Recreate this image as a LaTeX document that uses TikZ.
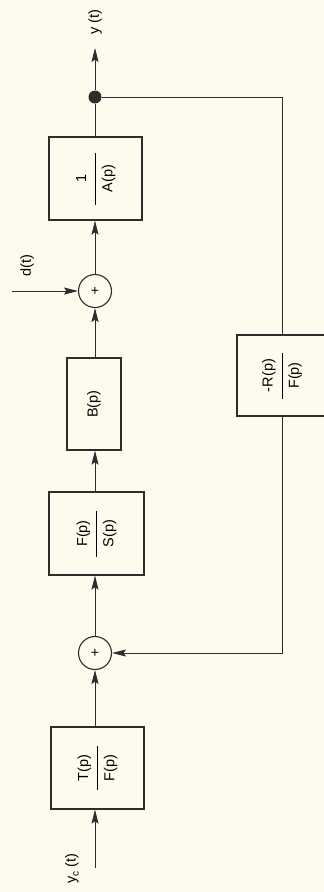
\documentclass[tikz,border=0pt]{standalone}
\usepackage{fontspec}
\setmainfont{Liberation Sans}
\usepackage{graphicx}
\usetikzlibrary{arrows.meta}
\definecolor{paper}{RGB}{253,251,238}
\definecolor{ink}{RGB}{45,45,45}
\newcommand\myfr[3]{\vbox{\offinterlineskip\halign{\hfil##\hfil\cr\vphantom{(}#1\cr\noalign{\kern6pt}\rule{#3}{0.7pt}\cr\noalign{\kern6pt}\vphantom{(}#2\cr}}}
\newcommand\rt[1]{\rotatebox{90}{\fontsize{14.5}{16}\selectfont #1}}
\begin{document}
\begin{tikzpicture}[x=1pt,y=-1pt,
  box/.style={draw=ink, line width=1.4pt, inner sep=0pt},
  sumj/.style={circle, draw=ink, line width=1.1pt, minimum size=33pt, inner sep=0pt, font=\fontsize{14}{15}\selectfont},
  conn/.style={draw=ink, line width=0.7pt},
  arr/.style={conn, -{Stealth[length=14pt,width=7pt,inset=2.5pt]}},
  lab/.style={inner sep=0pt}]
\fill[paper] (0,0) rectangle (324,892);
\useasboundingbox (0,0) rectangle (324,892);
\begin{scope}
\clip (0,0) rectangle (324,892);
\node[box, minimum width=93pt, minimum height=83pt] (A) at (95.5,178.5) {\rt{\myfr{1}{A(p)}{52pt}}};
\node[box, minimum width=54pt, minimum height=92pt] (B) at (94,404) {\rt{B(p)}};
\node[box, minimum width=95pt, minimum height=83pt] (FS) at (96.5,533.5) {\rt{\myfr{F(p)}{S(p)}{46pt}}};
\node[box, minimum width=93pt, minimum height=82pt] (TF) at (97.5,768) {\rt{\myfr{T(p)}{F(p)}{44pt}}};
\node[box, minimum width=90pt, minimum height=81pt] (RF) at (282,375.5) {\rt{\myfr{-R(p)}{F(p)}{46pt}}};
\end{scope}
\node[sumj] (s1) at (95,291) {+};
\node[sumj] (s2) at (95,653) {+};
\node[circle, fill=ink, minimum size=13pt, inner sep=0pt] (o) at (95,97) {};
\coordinate (out) at (95,48);
\coordinate (yc) at (95,868);
\coordinate (dst) at (12,291);
\node[lab] (ylab) at (95,22) {\rt{y (t)}};
\node[lab] (yclab) at (72,869) {\rt{y\raisebox{-3pt}{\fontsize{10}{11}\selectfont c} (t)}};
\node[lab] (dlab) at (27,266) {\rt{d(t)}};
\draw[arr] (yc) -- (TF.south -| yc);
\draw[arr] (TF.north -| s2) -- (s2.south);
\draw[arr] (s2.north) -- (FS.south -| s2);
\draw[arr] (FS.north -| s2) -- (B.south -| s2);
\draw[arr] (B.north -| s2) -- (s1.south);
\draw[arr] (s1.north) -- (A.south -| s1);
\draw[conn] (A.north -| s1) -- (o);
\draw[arr] (o) -- (out);
\draw[conn] (o) -| (RF.north);
\draw[arr] (RF.south) |- (s2.east);
\draw[arr] (dst) -- (s1.west);
\end{tikzpicture}
\end{document}
